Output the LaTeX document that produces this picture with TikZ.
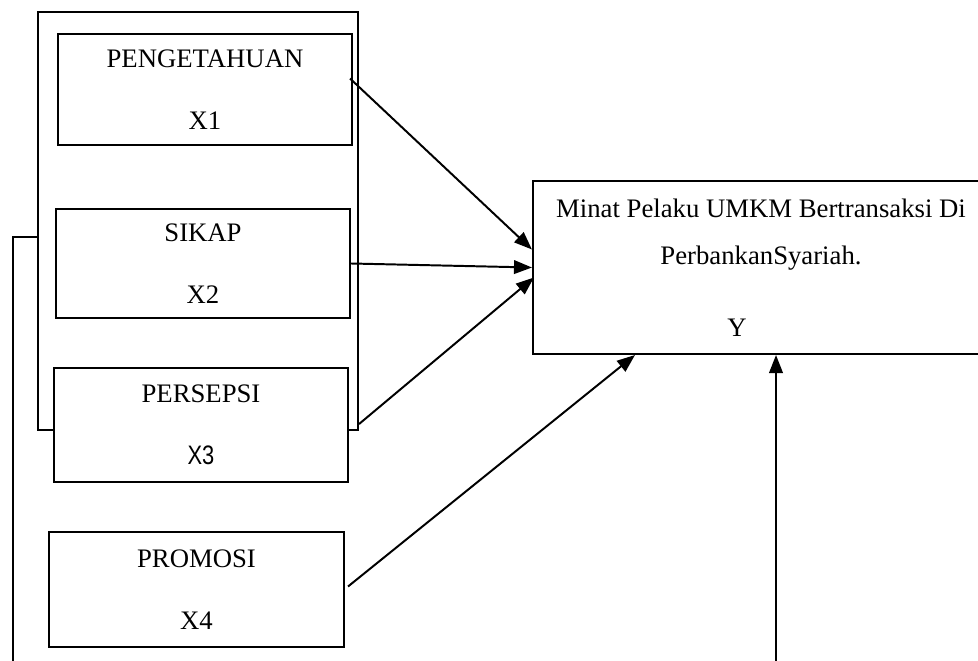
\documentclass[tikz,border=0pt]{standalone}
\usepackage{fontspec}
\setmainfont{Liberation Serif}
\newfontfamily\narrowsans{Liberation Sans}
\usetikzlibrary{arrows.meta,positioning,calc}

\tikzset{
  varbox/.style={draw,line width=1.4pt,fill=white,minimum width=7.35cm,
    align=center,inner sep=0pt,font=\fontsize{19}{44}\selectfont},
  grupbox/.style={draw,line width=1.4pt,minimum width=8cm,minimum height=10.45cm},
  panah/.style={line width=1.4pt,-{Triangle[length=0.45cm,width=0.34cm]}},
  garis/.style={line width=1.4pt}
}

\begin{document}
\begin{tikzpicture}[x=0.025cm,y=-0.025cm]
  \useasboundingbox (0,0) rectangle (978,661);

  % kelompok X1--X3
  \node[grupbox] (grup) at (198,221) {};

  % variabel bebas
  \node[varbox,minimum height=2.775cm] (pengetahuan) at (205,89.5) {PENGETAHUAN\\X1};
  \node[varbox,minimum height=2.725cm] (sikap) at (203,263.5) {SIKAP\\X2};
  \node[varbox,minimum height=2.85cm] (persepsi) at (201,425) {PERSEPSI\\{\narrowsans\scalebox{0.82}[1]{X3}}};
  \node[varbox,minimum width=7.375cm,minimum height=2.875cm] (promosi) at (196.5,589.5) {PROMOSI\\X4};

  % variabel terikat
  \node[draw,line width=1.4pt,minimum width=11.4cm,minimum height=4.325cm,
        align=center,inner sep=0pt,font=\fontsize{19}{33.3}\selectfont]
    (minat) at (761,267.5)
    {Minat Pelaku UMKM Bertransaksi Di\\PerbankanSyariah.\\[17.7pt]Y\hspace*{1.2cm}};

  % hubungan
  \draw[panah] ($(pengetahuan.east)+(-3,-11)$) -- ($(minat.west)+(0,-18)$);
  \draw[panah] (sikap.east) -- (minat.west);
  \draw[panah] ($(grup.south east)+(0,-7)$) -- ($(minat.west)+(2,10)$);
  \draw[panah] ($(promosi.east)+(3,-3)$) -- (minat.south -| 635,0);

  % garis bawah
  \coordinate (kiribawah) at (13,670);
  \coordinate (kananbawah) at (776,670);
  \draw[garis] (grup.west |- 0,237) -- (13,237) -- (kiribawah);
  \draw[panah] (kananbawah) -- (minat.south -| kananbawah);
\end{tikzpicture}
\end{document}
